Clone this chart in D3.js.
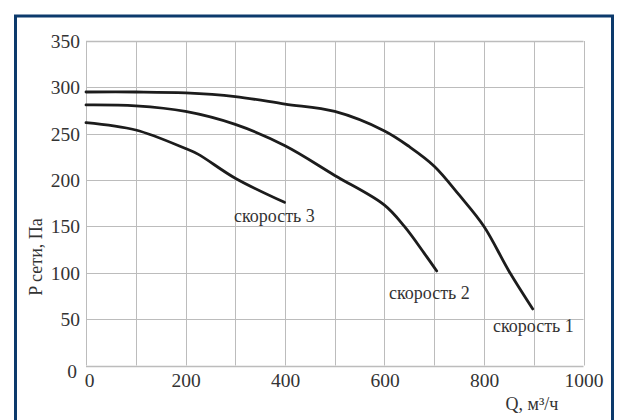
<!DOCTYPE html>
<html><head><meta charset="utf-8">
<script src="https://cdn.jsdelivr.net/npm/d3@7"></script>
<style>
html,body{margin:0;padding:0;background:#fff;}
svg{display:block;}
</style></head>
<body>
<svg id="chart" width="620" height="420" font-family="Liberation Serif"></svg>
<script>
// ---- data ----
const xTicks = [0, 200, 400, 600, 800, 1000];
const yTicks = [0, 50, 100, 150, 200, 250, 300, 350];
const xTitle = "Q, м³/ч";
const yTitle = "P сети, Па";

const speed1Q = [0, 100, 200, 300, 400, 500, 600, 650, 700, 750, 800, 850, 898];
const speed1P = [295, 295, 294, 290, 282, 274, 253, 236, 215, 184, 150, 102, 61];
const speed2Q = [0, 100, 200, 300, 400, 500, 600, 640, 680, 705];
const speed2P = [281, 280, 274, 260, 237, 205, 173, 150, 121, 102];
const speed3Q = [0, 100, 200, 225, 300, 399];
const speed3P = [262, 254, 234, 228, 202, 176];
const seriesNames = ["скорость 1", "скорость 2", "скорость 3"];

// ---- drawing ----
const FONT = "'Liberation Serif'";
const svg = d3.select("#chart");
const x = d3.scaleLinear().domain([0, 1000]).range([86, 583.5]);
const y = d3.scaleLinear().domain([0, 350]).range([365.5, 41]);

function serif(sel, size) {
  sel.attr("font-family", "Liberation Serif").style("font-family", FONT)
     .attr("font-size", size).style("font-size", size + "px").attr("fill", "#333");
  return sel;
}

// frame
svg.append("rect").attr("x", 15.5).attr("y", 16).attr("width", 597).attr("height", 430)
  .attr("fill", "none").attr("stroke", "#0c3a6c").attr("stroke-width", 3);

// grid
const grid = svg.append("g");
d3.range(0, 1001, 100).forEach(v => {
  grid.append("line").attr("x1", Math.round(x(v)) + 0.5).attr("x2", Math.round(x(v)) + 0.5)
    .attr("y1", y(0)).attr("y2", y(350)).attr("stroke", "#bcbcbc").attr("stroke-width", 1);
});
yTicks.forEach(v => {
  grid.append("line").attr("x1", x(0)).attr("x2", x(1000))
    .attr("y1", Math.round(y(v)) + 0.5).attr("y2", Math.round(y(v)) + 0.5)
    .attr("stroke", "#bcbcbc").attr("stroke-width", v === 0 || v === 350 ? 1.5 : 1);
});

// axes labels via d3 axes
const xAxis = d3.axisBottom(x).tickValues(xTicks).tickFormat(d3.format("d")).tickSize(0).tickPadding(0);
const gx = svg.append("g").attr("transform", `translate(0,${y(0)})`).call(xAxis);
gx.attr("font-family", "Liberation Serif").attr("font-size", 19);
gx.select(".domain").remove();
serif(gx.selectAll("text"), 19.5).attr("dy", null).attr("y", 21).attr("dx", d => d === 0 ? 3 : 0);

const yAxis = d3.axisLeft(y).tickValues(yTicks).tickFormat(d3.format("d")).tickSize(0).tickPadding(0);
const gy = svg.append("g").attr("transform", `translate(${x(0) - 6},0)`).call(yAxis);
gy.attr("font-family", "Liberation Serif").attr("font-size", 19);
gy.select(".domain").remove();
serif(gy.selectAll("text"), 19.5).attr("dy", d => d === 0 ? "0.6em" : "0.33em").attr("x", d => d === 0 ? -3 : 0);

serif(svg.append("text"), 18).attr("x", 532).attr("y", 410).attr("text-anchor", "middle").text(xTitle);
serif(svg.append("text"), 18).attr("transform", "translate(42,257) rotate(-90)").attr("text-anchor", "middle").text(yTitle);

// curves
const line = d3.line().x(d => x(d[0])).y(d => y(d[1])).curve(d3.curveCatmullRom.alpha(0.5));
const series = [
  d3.zip(speed1Q, speed1P),
  d3.zip(speed2Q, speed2P),
  d3.zip(speed3Q, speed3P)
];
series.forEach(s => {
  svg.append("path").attr("d", line(s)).attr("fill", "none")
    .attr("stroke", "#1c1c1c").attr("stroke-width", 2.8).attr("stroke-linecap", "round");
});

// labels
const labelPos = [[493, 332], [389, 299], [234, 222]];
seriesNames.forEach((n, i) => {
  serif(svg.append("text"), 18).attr("x", labelPos[i][0]).attr("y", labelPos[i][1]).text(n);
});
</script>
</body></html>
